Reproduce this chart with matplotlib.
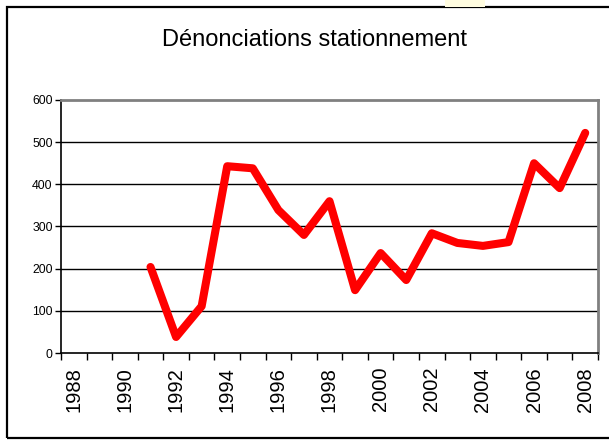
import matplotlib.pyplot as plt
import matplotlib.patches as patches
import numpy as np

plt.rcParams['font.family'] = ['Liberation Sans', 'DejaVu Sans']

years = list(range(1988, 2009))
values = [np.nan, np.nan, np.nan, 204, 38, 111, 443, 438, 339, 280, 360,
          149, 237, 173, 284, 261, 254, 263, 450, 391, 522]
yticks = [0, 100, 200, 300, 400, 500, 600]
title = "Dénonciations stationnement"

W, H = 609, 442
fig = plt.figure(figsize=(W / 100, H / 100), dpi=100)

# outer chart frame (Excel style)
fig.patches.append(patches.Rectangle((7 / W, 1 - 438 / H), 1.0, (438 - 7) / H,
                                     transform=fig.transFigure, fill=False,
                                     edgecolor='black', linewidth=1.6))
# faint yellow highlight at the top edge
fig.patches.append(patches.Rectangle((445 / W, 1 - 7 / H), 40 / W, 7 / H,
                                     transform=fig.transFigure, facecolor='#fffce0',
                                     edgecolor='none'))

left, right, bottom, top = 61 / W, 598 / W, 1 - 353 / H, 1 - 100 / H
ax = fig.add_axes([left, bottom, right - left, top - bottom])

x = np.arange(len(years))
ax.plot(x, values, color='#ff0000', linewidth=5.8,
        solid_capstyle='round', solid_joinstyle='round', zorder=3)

ax.set_xlim(-0.5, len(years) - 0.5)
ax.set_ylim(0, 600)
ax.set_yticks(yticks)
ax.tick_params(axis='y', labelsize=8.8, length=4, width=1, pad=2, direction='out')
for y in yticks[1:-1]:
    ax.axhline(y, color='black', linewidth=1, zorder=1)

# category boundaries as ticks, labels at category centres
ax.set_xticks(np.arange(-0.5, len(years), 1.0))
ax.set_xticklabels([])
ax.tick_params(axis='x', which='major', length=5, width=1, direction='out')
ax.set_xticks(x[::2], minor=True)
ax.set_xticklabels([str(y) for y in years[::2]], minor=True, rotation=90, fontsize=14.5)
ax.tick_params(axis='x', which='minor', length=0, pad=10)

for s in ['left', 'bottom']:
    ax.spines[s].set_color('black')
    ax.spines[s].set_linewidth(1.2)
for s in ['top', 'right']:
    ax.spines[s].set_color('#808080')
    ax.spines[s].set_linewidth(2)

fig.text(314 / W, 1 - 40 / H, title, ha='center', va='center', fontsize=17)

fig.savefig('out.png', dpi=100)
